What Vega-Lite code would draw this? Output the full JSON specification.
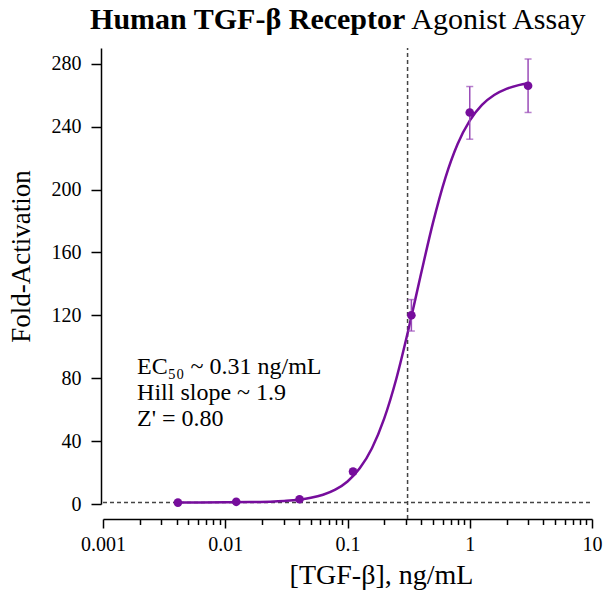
{
  "$schema": "https://vega.github.io/schema/vega-lite/v6.json",
  "width": 489,
  "height": 456,
  "autosize": {"type": "none"},
  "padding": {"left": 103, "top": 48, "right": 13, "bottom": 93},
  "background": "white",
  "config": {
    "view": {"stroke": null},
    "font": "Liberation Serif",
    "axis": {
      "domainColor": "black",
      "domainWidth": 1.5,
      "tickColor": "black",
      "tickWidth": 1.5,
      "labelColor": "black",
      "titleColor": "black",
      "labelFont": "Liberation Serif",
      "titleFont": "Liberation Serif",
      "labelFontSize": 20,
      "titleFontSize": 27,
      "titleFontWeight": "normal",
      "grid": false
    }
  },
  "datasets": {
    "curve": [
      {"x": 0.0041, "y": 1.01},
      {"x": 0.00631, "y": 1.03},
      {"x": 0.01, "y": 1.08},
      {"x": 0.01585, "y": 1.22},
      {"x": 0.02512, "y": 1.63},
      {"x": 0.03162, "y": 2.05},
      {"x": 0.03981, "y": 2.76},
      {"x": 0.05012, "y": 3.93},
      {"x": 0.0631, "y": 5.89},
      {"x": 0.07943, "y": 9.11},
      {"x": 0.1, "y": 14.34},
      {"x": 0.1259, "y": 22.67},
      {"x": 0.1585, "y": 35.49},
      {"x": 0.1995, "y": 54.27},
      {"x": 0.2512, "y": 79.82},
      {"x": 0.3162, "y": 111.4},
      {"x": 0.3981, "y": 145.9},
      {"x": 0.5012, "y": 179.1},
      {"x": 0.631, "y": 207.3},
      {"x": 0.7943, "y": 228.8},
      {"x": 1, "y": 243.8},
      {"x": 1.259, "y": 253.8},
      {"x": 1.585, "y": 260.1},
      {"x": 1.995, "y": 264.0},
      {"x": 2.512, "y": 266.4},
      {"x": 3, "y": 267.6}
    ],
    "points": [
      {"x": 0.0041, "y": 0.9, "lo": 0.6, "hi": 1.2},
      {"x": 0.0123, "y": 1.4, "lo": 1.0, "hi": 1.8},
      {"x": 0.0405, "y": 3.0, "lo": 2.4, "hi": 3.6},
      {"x": 0.111, "y": 20.6, "lo": 19.0, "hi": 22.2},
      {"x": 0.333, "y": 120, "lo": 110, "hi": 130},
      {"x": 1, "y": 249, "lo": 232, "hi": 265.5},
      {"x": 3, "y": 266, "lo": 249, "hi": 283}
    ],
    "title_bold": [{"label": "Human TGF-β Receptor"}],
    "title_plain": [{"label": "Agonist Assay"}],
    "note": [{"label": "EC₅₀ ~ 0.31 ng/mL\nHill slope ~ 1.9\nZ' = 0.80"}]
  },
  "layer": [
    {
      "data": {"name": "curve"},
      "transform": [{"filter": "datum.x == 1"}],
      "mark": {"type": "rule", "color": "#444444", "strokeWidth": 1.5, "strokeDash": [4, 3]},
      "encoding": {
        "x": {"datum": 0.001, "type": "quantitative"},
        "x2": {"datum": 10},
        "y": {"datum": 1, "type": "quantitative"}
      }
    },
    {
      "data": {"name": "curve"},
      "transform": [{"filter": "datum.x == 1"}],
      "mark": {"type": "rule", "color": "#444444", "strokeWidth": 1.5, "strokeDash": [4, 3], "clip": false},
      "encoding": {
        "x": {"datum": 0.31, "type": "quantitative"},
        "y": {"datum": -9.6, "type": "quantitative"},
        "y2": {"datum": 290}
      }
    },
    {
      "data": {"name": "curve"},
      "mark": {"type": "line", "color": "#760d9c", "strokeWidth": 2.5, "interpolate": "monotone"},
      "encoding": {
        "x": {"field": "x", "type": "quantitative"},
        "y": {"field": "y", "type": "quantitative"}
      }
    },
    {
      "data": {"name": "points"},
      "mark": {"type": "rule", "color": "#9a4cb8", "strokeWidth": 1.5},
      "encoding": {
        "x": {
          "field": "x",
          "type": "quantitative",
          "scale": {"type": "log", "domain": [0.001, 10], "nice": false},
          "axis": {
            "orient": "bottom",
            "offset": 15,
            "title": "[TGF-β], ng/mL",
            "titleFontSize": 28,
            "titleX": 278,
            "titlePadding": 7,
            "values": [0.001, 0.002, 0.003, 0.004, 0.005, 0.006, 0.007, 0.008, 0.009,
                       0.01, 0.02, 0.03, 0.04, 0.05, 0.06, 0.07, 0.08, 0.09,
                       0.1, 0.2, 0.3, 0.4, 0.5, 0.6, 0.7, 0.8, 0.9,
                       1, 2, 3, 4, 5, 6, 7, 8, 9, 10],
            "format": "~f",
            "labelExpr": "abs(log(datum.value)/LN10 - round(log(datum.value)/LN10)) < 1e-6 ? datum.label : ''",
            "tickSize": 9,
            "tickDash": {"condition": {"test": "abs(log(datum.value)/LN10 - round(log(datum.value)/LN10)) < 1e-6", "value": [20, 0]}, "value": [5.5, 20]},
            "labelPadding": 6,
            "labelFlush": false,
            "labelOverlap": false
          }
        },
        "y": {
          "field": "lo",
          "type": "quantitative",
          "scale": {"domain": [0, 290], "nice": false, "zero": false},
          "axis": {
            "orient": "left",
            "offset": 2,
            "title": "Fold-Activation",
            "titleY": 208,
            "titlePadding": 16,
            "values": [0, 40, 80, 120, 160, 200, 240, 280],
            "tickSize": 10,
            "labelPadding": 10
          }
        },
        "y2": {"field": "hi"}
      }
    },
    {
      "data": {"name": "points"},
      "mark": {"type": "tick", "orient": "horizontal", "color": "#9a4cb8", "size": 7, "thickness": 1.5},
      "encoding": {
        "x": {"field": "x", "type": "quantitative"},
        "y": {"field": "lo", "type": "quantitative"}
      }
    },
    {
      "data": {"name": "points"},
      "mark": {"type": "tick", "orient": "horizontal", "color": "#9a4cb8", "size": 7, "thickness": 1.5},
      "encoding": {
        "x": {"field": "x", "type": "quantitative"},
        "y": {"field": "hi", "type": "quantitative"}
      }
    },
    {
      "data": {"name": "points"},
      "mark": {"type": "circle", "color": "#760d9c", "opacity": 1, "size": 75},
      "encoding": {
        "x": {"field": "x", "type": "quantitative"},
        "y": {"field": "y", "type": "quantitative"}
      }
    },
    {
      "data": {"name": "title_bold"},
      "mark": {"type": "text", "align": "right", "baseline": "alphabetic", "fontSize": 30, "fontWeight": "bold", "font": "Liberation Serif", "color": "black", "clip": false},
      "encoding": {
        "x": {"datum": 0.2972, "type": "quantitative"},
        "y": {"datum": 302.1, "type": "quantitative"},
        "text": {"field": "label"}
      }
    },
    {
      "data": {"name": "title_plain"},
      "mark": {"type": "text", "align": "left", "baseline": "alphabetic", "dx": 6, "fontSize": 30, "fontWeight": "normal", "font": "Liberation Serif", "color": "black", "clip": false},
      "encoding": {
        "x": {"datum": 0.2972, "type": "quantitative"},
        "y": {"datum": 302.1, "type": "quantitative"},
        "text": {"field": "label"}
      }
    },
    {
      "data": {"name": "note"},
      "mark": {"type": "text", "align": "left", "baseline": "alphabetic", "fontSize": 24, "font": "Liberation Serif", "color": "black", "lineBreak": "\n", "lineHeight": 26},
      "encoding": {
        "x": {"datum": 0.0019, "type": "quantitative"},
        "y": {"datum": 82.7, "type": "quantitative"},
        "text": {"field": "label"}
      }
    }
  ]
}
